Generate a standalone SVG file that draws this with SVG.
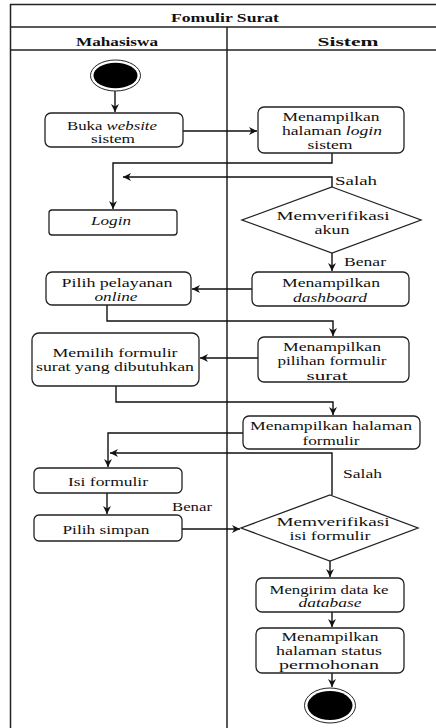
<svg xmlns="http://www.w3.org/2000/svg" width="436" height="728" viewBox="0 0 436 728">
<style>
  .frame{fill:none;stroke:#222;stroke-width:1.5}
  .box{fill:#fff;stroke:#222;stroke-width:1.3}
  .edge{fill:none;stroke:#111;stroke-width:1.4}
  text{font-family:'Liberation Serif',Tinos,'Times New Roman',Times,'Noto Serif','DejaVu Serif',serif;font-size:11.5px;fill:#111}
  .c{text-anchor:middle}
  .h{font-weight:bold}
  .i{font-style:italic}
</style>
<defs>
  <marker id="arr" viewBox="0 0 10 10" refX="10" refY="5" markerWidth="8" markerHeight="8" markerUnits="userSpaceOnUse" orient="auto">
    <path d="M0,0 L10,5 L0,10 L3,5 z" fill="#111"/>
  </marker>
</defs>
<rect width="436" height="728" fill="#fff"/>
<g id="frame">
  <rect class="frame" x="10.5" y="4.5" width="440" height="740"/>
  <line class="frame" x1="10" y1="27" x2="436" y2="27"/>
  <line class="frame" x1="10" y1="50" x2="436" y2="50"/>
  <line class="frame" x1="227" y1="27" x2="227" y2="728"/>
  <text class="c h" x="225" y="22" textLength="108" lengthAdjust="spacingAndGlyphs">Fomulir Surat</text>
  <text class="c h" x="117" y="46" textLength="82" lengthAdjust="spacingAndGlyphs">Mahasiswa</text>
  <text class="c h" x="348" y="46" textLength="61" lengthAdjust="spacingAndGlyphs">Sistem</text>
</g>
<g id="edges">
  <path class="edge" d="M115,91 V112" marker-end="url(#arr)"/>
  <path class="edge" d="M183,131 H257" marker-end="url(#arr)"/>
  <path class="edge" d="M332,153 V163 H113 V209" marker-end="url(#arr)"/>
  <path class="edge" d="M332,187 V177 H123" marker-end="url(#arr)"/>
  <path class="edge" d="M332,253 V271" marker-end="url(#arr)"/>
  <path class="edge" d="M252,289 H192" marker-end="url(#arr)"/>
  <path class="edge" d="M107,305 V321 H333 V336" marker-end="url(#arr)"/>
  <path class="edge" d="M258,358 H200" marker-end="url(#arr)"/>
  <path class="edge" d="M116,386 V402 H333 V415" marker-end="url(#arr)"/>
  <path class="edge" d="M243,433 H108 V467" marker-end="url(#arr)"/>
  <path class="edge" d="M332,495 V453 H110" marker-end="url(#arr)"/>
  <path class="edge" d="M107,493 V514" marker-end="url(#arr)"/>
  <path class="edge" d="M182,529 H240" marker-end="url(#arr)"/>
  <path class="edge" d="M330,561 V577" marker-end="url(#arr)"/>
  <path class="edge" d="M332,612 V627" marker-end="url(#arr)"/>
  <path class="edge" d="M332,673 V687" marker-end="url(#arr)"/>
  <text x="335" y="185" textLength="42" lengthAdjust="spacingAndGlyphs">Salah</text>
  <text x="344" y="266" textLength="42" lengthAdjust="spacingAndGlyphs">Benar</text>
  <text x="343" y="478" textLength="39" lengthAdjust="spacingAndGlyphs">Salah</text>
  <text x="172" y="511" textLength="40" lengthAdjust="spacingAndGlyphs">Benar</text>
</g>
<g id="start">
  <ellipse cx="115.5" cy="75.5" rx="25" ry="15.5" fill="#fff" stroke="#222" stroke-width="1"/>
  <ellipse cx="115.5" cy="75.5" rx="22" ry="12.8" fill="#000"/>
</g>
<g id="buka">
  <rect class="box" x="45" y="113" width="138" height="34" rx="6"/>
  <text class="c" x="112" y="130" textLength="90" lengthAdjust="spacingAndGlyphs">Buka <tspan class="i">website</tspan></text>
  <text class="c" x="113" y="143" textLength="44" lengthAdjust="spacingAndGlyphs">sistem</text>
</g>
<g id="halamanLogin">
  <rect class="box" x="258" y="107" width="146" height="46" rx="6"/>
  <text class="c" x="331" y="121" textLength="97" lengthAdjust="spacingAndGlyphs">Menampilkan</text>
  <text class="c" x="332" y="135" textLength="100" lengthAdjust="spacingAndGlyphs">halaman <tspan class="i">login</tspan></text>
  <text class="c" x="330" y="149" textLength="45" lengthAdjust="spacingAndGlyphs">sistem</text>
</g>
<g id="login">
  <rect class="box" x="49" y="210" width="128" height="25" rx="3"/>
  <text class="c i" x="111" y="225" textLength="40" lengthAdjust="spacingAndGlyphs">Login</text>
</g>
<g id="verifAkun">
  <polygon class="box" points="332,187 421,220 332,253 242,220"/>
  <text class="c" x="333" y="220" textLength="113" lengthAdjust="spacingAndGlyphs">Memverifikasi</text>
  <text class="c" x="332" y="234" textLength="35" lengthAdjust="spacingAndGlyphs">akun</text>
</g>
<g id="dashboard">
  <rect class="box" x="252" y="272" width="157" height="34" rx="6"/>
  <text class="c" x="331" y="287" textLength="98" lengthAdjust="spacingAndGlyphs">Menampilkan</text>
  <text class="c i" x="330" y="302" textLength="74" lengthAdjust="spacingAndGlyphs">dashboard</text>
</g>
<g id="pilihPelayanan">
  <rect class="box" x="46" y="272" width="145" height="33" rx="6"/>
  <text class="c" x="117" y="287" textLength="111" lengthAdjust="spacingAndGlyphs">Pilih pelayanan</text>
  <text class="c i" x="116" y="301" textLength="43" lengthAdjust="spacingAndGlyphs">online</text>
</g>
<g id="pilihanFormulir">
  <rect class="box" x="258" y="337" width="151" height="45" rx="6"/>
  <text class="c" x="332" y="351" textLength="98" lengthAdjust="spacingAndGlyphs">Menampilkan</text>
  <text class="c" x="332" y="365" textLength="109" lengthAdjust="spacingAndGlyphs">pilihan formulir</text>
  <text class="c" x="327" y="380" textLength="41" lengthAdjust="spacingAndGlyphs">surat</text>
</g>
<g id="memilihFormulir">
  <rect class="box" x="32" y="333" width="167" height="53" rx="7"/>
  <text class="c" x="115" y="357" textLength="125" lengthAdjust="spacingAndGlyphs">Memilih formulir</text>
  <text class="c" x="115" y="371" textLength="158" lengthAdjust="spacingAndGlyphs">surat yang dibutuhkan</text>
</g>
<g id="halamanFormulir">
  <rect class="box" x="243" y="416" width="177" height="33" rx="6"/>
  <text class="c" x="331" y="430" textLength="162" lengthAdjust="spacingAndGlyphs">Menampilkan halaman</text>
  <text class="c" x="331" y="445" textLength="57" lengthAdjust="spacingAndGlyphs">formulir</text>
</g>
<g id="isiFormulir">
  <rect class="box" x="34" y="468" width="148" height="25" rx="5"/>
  <text class="c" x="108" y="486" textLength="80" lengthAdjust="spacingAndGlyphs">Isi formulir</text>
</g>
<g id="pilihSimpan">
  <rect class="box" x="34" y="515" width="148" height="26" rx="5"/>
  <text class="c" x="106" y="534" textLength="87" lengthAdjust="spacingAndGlyphs">Pilih simpan</text>
</g>
<g id="verifFormulir">
  <polygon class="box" points="330,495 418,528 330,561 241,528"/>
  <text class="c" x="333" y="526" textLength="113" lengthAdjust="spacingAndGlyphs">Memverifikasi</text>
  <text class="c" x="330" y="540" textLength="81" lengthAdjust="spacingAndGlyphs">isi formulir</text>
</g>
<g id="kirimData">
  <rect class="box" x="256" y="578" width="148" height="34" rx="6"/>
  <text class="c" x="329" y="594" textLength="119" lengthAdjust="spacingAndGlyphs">Mengirim data ke</text>
  <text class="c i" x="330" y="607" textLength="63" lengthAdjust="spacingAndGlyphs">database</text>
</g>
<g id="statusPermohonan">
  <rect class="box" x="256" y="628" width="148" height="45" rx="6"/>
  <text class="c" x="330" y="641" textLength="97" lengthAdjust="spacingAndGlyphs">Menampilkan</text>
  <text class="c" x="329" y="655" textLength="106" lengthAdjust="spacingAndGlyphs">halaman status</text>
  <text class="c" x="329" y="669" textLength="100" lengthAdjust="spacingAndGlyphs">permohonan</text>
</g>
<g id="end">
  <ellipse cx="330" cy="705.5" rx="25.5" ry="17.5" fill="#fff" stroke="#222" stroke-width="1"/>
  <ellipse cx="330" cy="705.5" rx="22.5" ry="14.5" fill="#000"/>
</g>
</svg>
